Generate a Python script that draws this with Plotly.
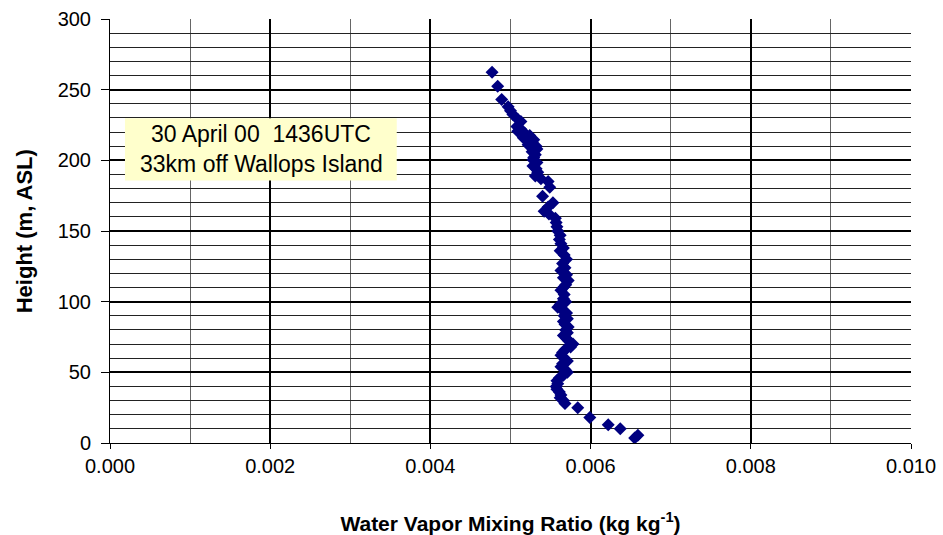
import plotly.graph_objects as go

# Height (m, ASL)
heights = [262.4, 252.5, 243, 238, 235, 232.5, 229, 227.5, 224, 222, 220.5, 219, 217.5, 216,
           214.5, 213, 211, 210, 208, 206, 204, 202, 200.5, 198.5, 196, 194, 191.5, 189, 187,
           185, 181, 174.5, 170, 167, 164, 162, 159, 156, 153, 150, 147, 144, 141, 138, 136,
           133, 130, 127, 124, 122, 119, 117, 115, 112, 110, 108, 105, 102, 100, 98, 96, 94,
           92, 90, 88, 86, 84, 82, 80, 78, 76, 74, 72, 70, 68, 66, 64, 62, 60, 58, 56, 54, 52,
           50, 48, 46, 44, 42, 40, 38, 36, 34, 32, 30, 28, 25, 18, 13, 10, 5.5, 3.5]
# Water vapor mixing ratio (kg/kg)
mixing_ratio = [0.00477, 0.00484, 0.00489, 0.00497, 0.00500, 0.00503, 0.00509, 0.00513, 0.00508,
                0.00513, 0.00509, 0.00518, 0.00524, 0.00516, 0.00529, 0.00527, 0.00522, 0.00532,
                0.00533, 0.00527, 0.00531, 0.00529, 0.00528, 0.00533, 0.00528, 0.00532, 0.00534,
                0.00531, 0.00538, 0.00547, 0.00549, 0.00540, 0.00553, 0.00547, 0.00542, 0.00548,
                0.00556, 0.00557, 0.00558, 0.00559, 0.00562, 0.00561, 0.00563, 0.00566, 0.00562,
                0.00567, 0.00570, 0.00565, 0.00568, 0.00563, 0.00570, 0.00566, 0.00572, 0.00569,
                0.00566, 0.00563, 0.00567, 0.00566, 0.00569, 0.00562, 0.00559, 0.00565, 0.00570,
                0.00567, 0.00571, 0.00566, 0.00568, 0.00572, 0.00569, 0.00571, 0.00566, 0.00570,
                0.00573, 0.00578, 0.00575, 0.00568, 0.00565, 0.00563, 0.00567, 0.00571, 0.00565,
                0.00563, 0.00568, 0.00571, 0.00566, 0.00561, 0.00558, 0.00559, 0.00557, 0.00558,
                0.00561, 0.00563, 0.00562, 0.00566, 0.00568, 0.00584, 0.00599, 0.00622, 0.00637,
                0.00659, 0.00655]

label_line1 = "30 April 00  1436UTC"
label_line2 = "33km off Wallops Island"
x_title = "<b>Water Vapor Mixing Ratio (kg kg<sup>-1</sup>)</b>"
y_title = "<b>Height (m, ASL)</b>"

font_family = "Liberation Sans, Arial, sans-serif"

fig = go.Figure()
fig.add_trace(go.Scatter(
    x=mixing_ratio, y=heights, mode="markers",
    marker=dict(symbol="diamond", size=10, color="#000080", line=dict(width=0)),
    showlegend=False,
))

fig.update_layout(
    width=943, height=535,
    margin=dict(l=110, r=32, t=19, b=92),
    paper_bgcolor="white", plot_bgcolor="white",
    font=dict(family=font_family, size=20, color="black"),
    xaxis=dict(
        range=[0, 0.010], tick0=0, dtick=0.002, tickformat=".3f",
        showgrid=True, gridcolor="black", gridwidth=2,
        minor=dict(dtick=0.001, showgrid=True, gridcolor="#666666", gridwidth=1),
        ticks="outside", ticklen=5, tickcolor="black", tickwidth=1,
        showline=True, linecolor="black", linewidth=1, zeroline=False,
        tickfont=dict(size=20),
        title=dict(text=x_title, font=dict(size=21), standoff=40),
        automargin=False, fixedrange=True,
    ),
    yaxis=dict(
        range=[0, 300], tick0=0, dtick=50,
        showgrid=True, gridcolor="black", gridwidth=2,
        minor=dict(dtick=10, showgrid=True, gridcolor="#222222", gridwidth=1),
        ticks="outside", ticklen=8, tickcolor="black", tickwidth=1,
        showline=True, linecolor="black", linewidth=1, zeroline=False,
        tickfont=dict(size=20), ticklabelstandoff=6,
        automargin=False, fixedrange=True,
    ),
    shapes=[dict(type="rect", xref="x", yref="y", x0=0.000187, x1=0.00358, y0=185.8, y1=229.8,
                 fillcolor="#FFFFCC", line=dict(width=0), layer="above")],
    annotations=[
        dict(x=0.00189, y=218.4, xref="x", yref="y", text=label_line1, showarrow=False,
             font=dict(size=23, family=font_family), xanchor="center", yanchor="middle"),
        dict(x=0.00189, y=197.6, xref="x", yref="y", text=label_line2, showarrow=False,
             font=dict(size=23, family=font_family), xanchor="center", yanchor="middle"),
        dict(x=-0.107, y=0.5, xref="paper", yref="paper", text=y_title, showarrow=False,
             textangle=-90, font=dict(size=22, family=font_family),
             xanchor="center", yanchor="middle"),
    ],
)

fig.write_html("out.html")
